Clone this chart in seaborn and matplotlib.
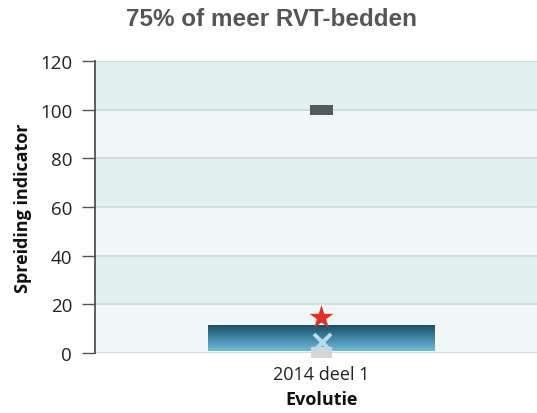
import numpy as np
import pandas as pd
import matplotlib
matplotlib.use("Agg")
import matplotlib.pyplot as plt
import seaborn as sns
from matplotlib.colors import LinearSegmentedColormap

categories = ["2014 deel 1"]
bar_low = [1.0]
bar_high = [11.5]
star_vals = [14.5]
cross_vals = [4.7]
square_vals = [0.3]
dash_vals = [100.0]
yticks = [0, 20, 40, 60, 80, 100, 120]

sns.set_theme(style="white")
plt.rcParams['font.family'] = ['Open Sans', 'DejaVu Sans']

fig = plt.figure(figsize=(5.37, 4.14), dpi=100)
ax = fig.add_axes([95/537, 1-354/414, (548-95)/537, (354-62)/414])

# background bands
for i, lo in enumerate(range(0, 120, 20)):
    ax.axhspan(lo, lo+20, color="#f0f8f7" if i % 2 == 0 else "#e2f1f0", zorder=0, lw=0)
for t in yticks:
    ax.axhline(t, color="#d3d8d7", lw=1.2, zorder=0.5)

df = pd.DataFrame({"cat": categories, "low": bar_low, "high": bar_high})
df["h"] = df["high"] - df["low"]
sns.barplot(data=df, x="cat", y="h", bottom=df["low"], ax=ax, width=0.5,
            color="#2a6f8e", edgecolor="none", zorder=2)

# gradient fill clipped to bar
cmap = LinearSegmentedColormap.from_list("g", ["#6fbddf", "#174e66"])
for p in ax.containers[0].patches:
    x0, y0 = p.get_x(), p.get_y()
    w, h = p.get_width(), p.get_height()
    grad = np.linspace(0, 1, 256).reshape(-1, 1)
    im = ax.imshow(grad, extent=[x0, x0+w, y0, y0+h], origin="lower",
                   aspect="auto", cmap=cmap, zorder=2.5)
    im.set_clip_path(p)

grey_rect = [(-1.0, -0.52), (1.0, -0.52), (1.0, 0.52), (-1.0, 0.52), (-1.0, -0.52)]
sns.scatterplot(x=categories, y=square_vals, marker=grey_rect, s=235, color="#d6d6d6",
                edgecolor="none", ax=ax, zorder=3, clip_on=False)
sns.scatterplot(x=categories, y=cross_vals, marker="x", s=150, color="#b8dcea",
                linewidth=2.8, ax=ax, zorder=4)
sns.scatterplot(x=categories, y=star_vals, marker="*", s=330, color="#e03124",
                edgecolor="none", ax=ax, zorder=5)
rect = [(-2.2, -1), (2.2, -1), (2.2, 1), (-2.2, 1), (-2.2, -1)]
sns.scatterplot(x=categories, y=dash_vals, marker=rect, s=260, color="#58595b",
                edgecolor="none", ax=ax, zorder=5)

ax.set_xlim(-0.5, 0.5)
ax.set_ylim(0, 120)
ax.set_yticks(yticks)
ax.set_yticklabels([str(t) for t in yticks], fontsize=13.5, color="#222222")
ax.tick_params(axis="x", labelsize=13, colors="#222222", length=0, pad=9)
ax.tick_params(axis="y", left=True, length=9.5, width=1, color="#555555", pad=7)
for s in ["top", "right", "bottom"]:
    ax.spines[s].set_visible(False)
ax.spines["left"].set_color("#444444")
ax.spines["left"].set_linewidth(1.2)

ax.set_xlabel("Evolutie", fontsize=13, fontweight="bold", labelpad=5, color="#111111")
ax.set_ylabel("Spreiding indicator", fontsize=13, fontweight="bold", labelpad=6, color="#111111")
fig.text(272/537, 1-19/414, "75% of meer RVT-bedden", ha="center", va="center",
         fontsize=17.5, fontweight="bold", color="#555555", family=["Liberation Sans", "DejaVu Sans"])

fig.savefig("out.png", dpi=100)
